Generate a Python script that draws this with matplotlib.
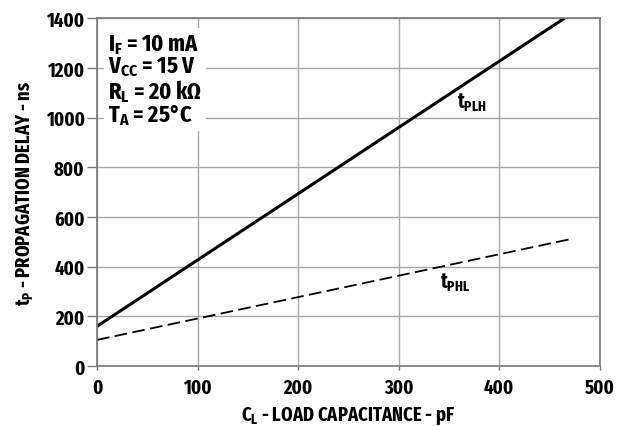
import matplotlib.pyplot as plt

FONT = 'Fira Sans Extra Condensed'
plt.rcParams['font.family'] = [FONT, 'DejaVu Sans']
plt.rcParams['font.weight'] = 'bold'
plt.rcParams['mathtext.default'] = 'regular'

# load capacitance (pF) vs propagation delay (ns)
cl_plh = [0, 465]
tplh = [160, 1400]
cl_phl = [0, 470]
tphl = [105, 510]

xticks = [0, 100, 200, 300, 400, 500]
yticks = [0, 200, 400, 600, 800, 1000, 1200, 1400]

fig = plt.figure(figsize=(6.26, 4.27), dpi=100)
ax = fig.add_axes([0.155, 0.1405, 0.803, 0.8145])

ax.plot(cl_plh, tplh, color='black', lw=2.2, solid_capstyle='butt')
ax.plot(cl_phl, tphl, color='black', lw=1.3, ls=(0, (7, 3)))

ax.set_xlim(0, 500)
ax.set_ylim(0, 1400)
ax.set_xticks(xticks)
ax.set_yticks(yticks)
ax.tick_params(labelsize=14.5, width=1, color='#777777')
ax.tick_params(axis='x', length=3, pad=5)
ax.tick_params(axis='y', length=7, pad=2)
for lab in ax.get_xticklabels() + ax.get_yticklabels():
    lab.set_fontweight('bold')
ax.grid(True, color='#a8a8a8', lw=1)
for s in ax.spines.values():
    s.set_color('#777777')
    s.set_linewidth(1.2)

ax.set_xlabel('C$_{L}$ - LOAD CAPACITANCE - pF', fontsize=14.5, fontweight='bold', labelpad=6)
ax.set_ylabel('t$_{P}$ - PROPAGATION DELAY - ns', fontsize=14.5, fontweight='bold', labelpad=7)

ax.text(358, 1018, 't$_{PLH}$', fontsize=15, fontweight='bold', va='bottom')
ax.text(341, 295, 't$_{PHL}$', fontsize=15, fontweight='bold', va='bottom')

cond = 'I$_{F}$ = 10 mA\nV$_{CC}$ = 15 V\nR$_{L}$ = 20 k\u03a9\nT$_{A}$ = 25\u00b0C'
ax.text(11, 1345, cond, fontsize=17.5, fontweight='bold', va='top', linespacing=0.92,
        bbox=dict(facecolor='white', edgecolor='none', pad=3))

fig.savefig('out.png', dpi=100)
